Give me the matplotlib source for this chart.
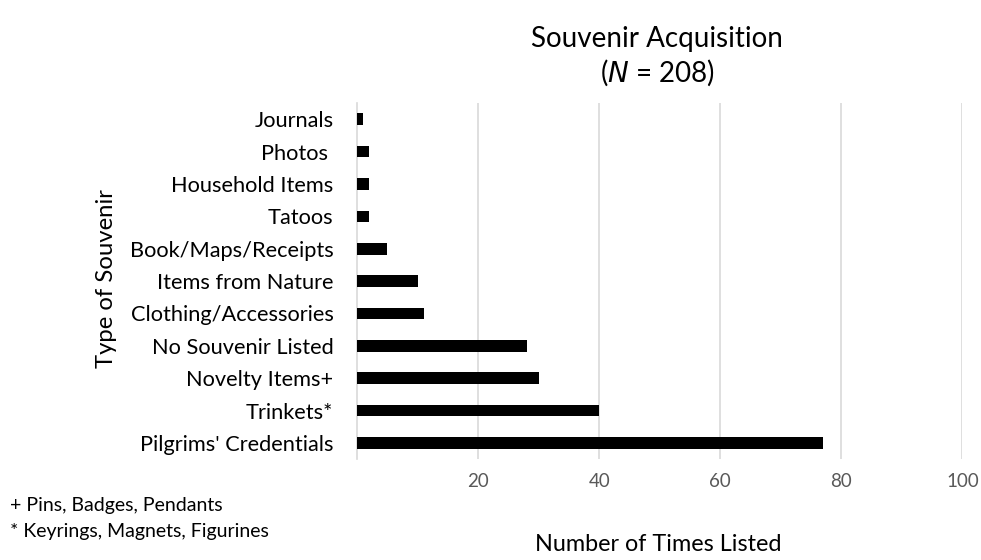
import matplotlib.pyplot as plt
import numpy as np

plt.rcParams['font.family'] = ['Lato', 'DejaVu Sans']

categories = ["Pilgrims' Credentials", "Trinkets*", "Novelty Items+", "No Souvenir Listed",
              "Clothing/Accessories", "Items from Nature", "Book/Maps/Receipts", "Tatoos",
              "Household Items", "Photos ", "Journals"]
counts = [77, 40, 30, 28, 11, 10, 5, 2, 2, 2, 1]
xticks = [20, 40, 60, 80, 100]

fig = plt.figure(figsize=(9.81, 5.6), dpi=100)
ax = fig.add_axes([0.364, 0.180, 0.617, 0.636])

y = np.arange(len(categories))
ax.barh(y, counts, height=0.36, color='black', zorder=3)

ax.set_xlim(0, 100)
ax.set_ylim(-0.5, len(categories) - 0.5)
ax.set_yticks(y)
ax.set_yticklabels(categories, fontsize=15.7, color='black')
ax.set_xticks(xticks)
ax.set_xticklabels([str(t) for t in xticks], fontsize=13.5, color='#595959')
ax.tick_params(axis='both', length=0)
ax.tick_params(axis='x', pad=10)
ax.tick_params(axis='y', pad=17)

ax.grid(axis='x', color='#d9d9d9', linewidth=1.2, zorder=0)
for s in ['top', 'right', 'bottom']:
    ax.spines[s].set_visible(False)
ax.spines['left'].set_color('#d9d9d9')
ax.spines['left'].set_linewidth(1.2)

fig.text(0.67, 0.930, 'Souvenir Acquisition', ha='center', va='center', fontsize=20)
fig.text(0.67, 0.870, r'($\it{N}$ = 208)', ha='center', va='center', fontsize=20)

fig.text(0.671, 0.027, 'Number of Times Listed', ha='center', va='center', fontsize=16.8)
fig.text(0.109, 0.503, 'Type of Souvenir', ha='center', va='center', rotation=90, fontsize=17.2)

fig.text(0.010, 0.098, '+ Pins, Badges, Pendants', ha='left', va='center', fontsize=14)
fig.text(0.010, 0.050, '* Keyrings, Magnets, Figurines', ha='left', va='center', fontsize=14)

fig.savefig('out.png', dpi=100)
